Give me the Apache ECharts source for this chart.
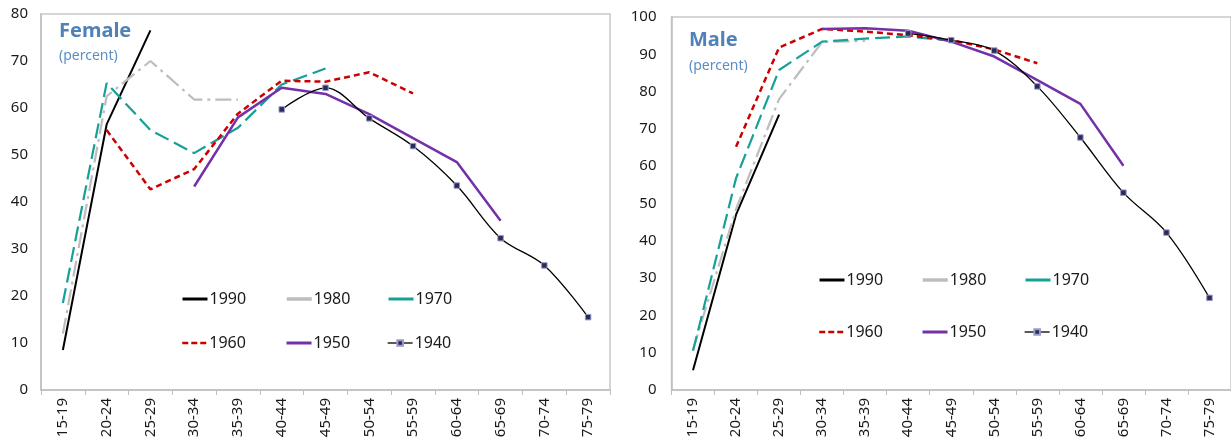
<!DOCTYPE html>
<html><head><meta charset="utf-8">
<script src="https://cdn.jsdelivr.net/npm/echarts@6/dist/echarts.min.js"></script>
<style>html,body{margin:0;padding:0;background:#fff}#c{width:1231px;height:445px}</style>
</head><body><div id="c"></div>
<script>
const categories = ['15-19','20-24','25-29','30-34','35-39','40-44','45-49','50-54','55-59','60-64','65-69','70-74','75-79'];
const cohorts = ['1990','1980','1970','1960','1950','1940'];
// Female participation rates by birth cohort (percent)
const female1990 = [8.5, 56.5, 76.5, null, null, null, null, null, null, null, null, null, null];
const female1980 = [12, 62.5, 70, 61.8, 61.8, null, null, null, null, null, null, null, null];
const female1970 = [18.5, 65.3, 55.3, 50.4, 55.8, 65, 68.4, null, null, null, null, null, null];
const female1960 = [null, 55.3, 42.7, 47, 58.8, 65.8, 65.6, 67.6, 63.1, null, null, null, null];
const female1950 = [null, null, null, 43.3, 58, 64.3, 63, 58.7, 53.6, 48.5, 36, null, null];
const female1940 = [null, null, null, null, null, 59.7, 64.3, 57.8, 51.9, 43.5, 32.3, 26.5, 15.5];
// Male participation rates by birth cohort (percent)
const male1990 = [5.3, 47, 73.8, null, null, null, null, null, null, null, null, null, null];
const male1980 = [10.8, 48.5, 78, 93.3, 93.6, null, null, null, null, null, null, null, null];
const male1970 = [10.5, 56.8, 85.8, 93.4, 94.2, 94.8, 93.6, null, null, null, null, null, null];
const male1960 = [null, 65.2, 91.8, 96.8, 96.1, 95.1, 93.8, 91.3, 87.6, null, null, null, null];
const male1950 = [null, null, null, 96.8, 97, 96.3, 93.4, 89.4, 83.1, 76.7, 60.1, null, null];
const male1940 = [null, null, null, null, null, 95.6, 93.8, 91, 81.4, 67.7, 52.9, 42.2, 24.7];

const femaleData = [female1990, female1980, female1970, female1960, female1950, female1940];
const maleData = [male1990, male1980, male1970, male1960, male1950, male1940];

const styles = {
  '1990': {color:'#000000', width:2, type:'solid'},
  '1980': {color:'#bdbdbd', width:2.2, type:[16,5,3,5]},
  '1970': {color:'#16a096', width:2.2, type:[15,6]},
  '1960': {color:'#cc0000', width:2.5, type:[6,4]},
  '1950': {color:'#7330a8', width:2.5, type:'solid'},
  '1940': {color:'#000000', width:1.3, type:'solid'}
};

function makeSeries(dataArr, idx) {
  return cohorts.map((name, i) => {
    const s = styles[name];
    const is40 = name === '1940';
    return {
      name, type:'line', xAxisIndex: idx, yAxisIndex: idx,
      data: dataArr[i], connectNulls:false, smooth: is40 ? 0.35 : false,
      showSymbol: is40, symbol: is40 ? 'rect' : 'none', symbolSize: 5.5,
      itemStyle: is40 ? {color:'#2a2a58', borderColor:'#9a9ac8', borderWidth:1} : {color:s.color},
      lineStyle: {color:s.color, width:s.width, type:s.type},
      emphasis:{disabled:true}, animation:false, z: is40 ? 5 : 3
    };
  });
}

const font = '"Noto Sans", "Open Sans", sans-serif';
function xAxis(idx){
  return {type:'category', gridIndex: idx, data: categories, boundaryGap:true,
    axisLine:{lineStyle:{color:'#bfbfbf', width:1.5}},
    axisTick:{show:true, alignWithLabel:false, length:5, lineStyle:{color:'#bfbfbf'}},
    axisLabel:{rotate:90, color:'#1a1a1a', fontSize:15, fontFamily:font, margin:8, interval:0},
    splitLine:{show:false}};
}
function yAxis(idx, max){
  return {type:'value', gridIndex: idx, min:0, max:max, interval:10,
    axisLine:{show:true, lineStyle:{color:'#bfbfbf', width:1.5}},
    axisTick:{show:false},
    axisLabel:{color:'#1a1a1a', fontSize:15, fontFamily:font, margin: idx===0 ? 13 : 15},
    splitLine:{show:false}};
}

const legendPos = [
  // female
  {name:'1990', left:176, top:286}, {name:'1980', left:280, top:286}, {name:'1970', left:382, top:286},
  {name:'1960', left:176, top:330}, {name:'1950', left:280, top:330}, {name:'1940', left:382, top:330},
  // male
  {name:'1990', left:813, top:267}, {name:'1980', left:916, top:267}, {name:'1970', left:1019, top:267},
  {name:'1960', left:813, top:319}, {name:'1950', left:916, top:319}, {name:'1940', left:1019, top:319}
];
const legendLine = {
  '1990': {width:3}, '1980': {type:'solid', width:3.5}, '1970': {type:'solid', width:3},
  '1960': {type:[6,3], width:2.5}, '1950': {width:3}, '1940': {width:1.3}
};
const legends = legendPos.map(p => ({
  data:[p.name], left:p.left, top:p.top, itemWidth:25, itemHeight: p.name === '1940' ? 7 : 12, itemGap:2,
  selectedMode:false,
  itemStyle: p.name === '1940' ? {} : {opacity:0},
  lineStyle: legendLine[p.name],
  textStyle:{fontSize:16, color:'#1a1a1a', fontFamily:font, padding:[0,0,0,-3]}
}));

const chart = echarts.init(document.getElementById('c'), null, {renderer:'canvas'});
chart.setOption({
  animation:false,
  backgroundColor:'#fff',
  title:[
    {text:'Female', left:54, top:16, textStyle:{fontSize:20, fontWeight:'bold', color:'#4f82b6', fontFamily:font}},
    {text:'(percent)', left:54, top:44, textStyle:{fontSize:14, fontWeight:'normal', color:'#5c8ec2', fontFamily:font}},
    {text:'Male', left:684, top:25, textStyle:{fontSize:20, fontWeight:'bold', color:'#4f82b6', fontFamily:font}},
    {text:'(percent)', left:684, top:54, textStyle:{fontSize:14, fontWeight:'normal', color:'#5c8ec2', fontFamily:font}}
  ],
  legend: legends,
  grid:[
    {left:41, top:14, width:569, height:376, show:true, borderColor:'#c8c8c8', borderWidth:1.5, containLabel:false},
    {left:671.5, top:17, width:564, height:373, show:true, borderColor:'#c8c8c8', borderWidth:1.5, containLabel:false}
  ],
  xAxis:[xAxis(0), xAxis(1)],
  yAxis:[yAxis(0, 80), yAxis(1, 100)],
  series: makeSeries(femaleData, 0).concat(makeSeries(maleData, 1))
});
</script></body></html>
